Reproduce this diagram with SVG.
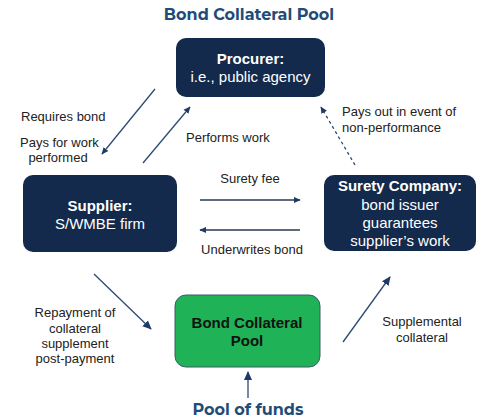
<svg xmlns="http://www.w3.org/2000/svg" width="478" height="420" viewBox="0 0 478 420">
  <defs>
    <marker id="arrow" viewBox="0 0 10 10" refX="9" refY="5" markerWidth="7" markerHeight="7" markerUnits="userSpaceOnUse" orient="auto">
      <path d="M0,0.5 L10,5 L0,9.5 z" fill="#1f3a66"/>
    </marker>
    <marker id="arrowBig" viewBox="0 0 10 10" refX="9" refY="5" markerWidth="9" markerHeight="9" markerUnits="userSpaceOnUse" orient="auto">
      <path d="M0,0.5 L10,5 L0,9.5 z" fill="#1f3a66"/>
    </marker>
  </defs>
  <style>
    .node { fill: #132a4c; }
    .pool { fill: #1fb256; stroke: #3b5b6a; stroke-width: 1; }
    .nt { font-family: "Liberation Sans", Arial, sans-serif; font-size: 15px; fill: #ffffff; text-anchor: middle; }
    .b { font-weight: bold; }
    .pt { font-family: "Liberation Sans", Arial, sans-serif; font-size: 15px; font-weight: bold; fill: #111111; text-anchor: middle; }
    .lbl { font-family: "Liberation Sans", Arial, sans-serif; font-size: 13px; fill: #222222; }
    .mid { text-anchor: middle; }
    .head { font-family: "Montserrat", "Open Sans", "Liberation Sans", sans-serif; font-weight: bold; font-size: 16px; fill: #1e4b78; text-anchor: middle; }
    .ln { stroke: #2c4a72; stroke-width: 1.3; fill: none; }
    .flat { stroke: #5b6b80; stroke-width: 1.8; fill: none; }
    .dash { stroke: #2c4a72; stroke-width: 1.3; stroke-dasharray: 3 3; fill: none; }
  </style>

  <rect width="478" height="420" fill="#ffffff"/>

  <text class="head" x="249" y="20">Bond Collateral Pool</text>

  <g id="procurer">
    <rect class="node" x="176" y="38" width="149" height="59" rx="10"/>
    <text class="nt b" x="250.5" y="64">Procurer:</text>
    <text class="nt" x="250.5" y="82">i.e., public agency</text>
  </g>

  <g id="supplier">
    <rect class="node" x="23" y="175" width="154" height="77" rx="10"/>
    <text class="nt b" x="100" y="211">Supplier:</text>
    <text class="nt" x="100" y="229">S/WMBE firm</text>
  </g>

  <g id="surety">
    <rect class="node" x="324" y="175" width="152" height="76" rx="10"/>
    <text class="nt b" x="400" y="191">Surety Company:</text>
    <text class="nt" x="400" y="210">bond issuer</text>
    <text class="nt" x="400" y="228">guarantees</text>
    <text class="nt" x="400" y="246">supplier’s work</text>
  </g>

  <g id="bond-pool">
    <rect class="pool" x="175" y="295" width="145" height="72" rx="11"/>
    <text class="pt" x="247" y="328">Bond Collateral</text>
    <text class="pt" x="247" y="346">Pool</text>
  </g>

  <g id="pool-of-funds">
    <text class="head" x="248" y="415">Pool of funds</text>
  </g>

  <g id="connectors">
    <line class="ln" x1="155" y1="89" x2="102" y2="154" marker-end="url(#arrow)"/>
    <line class="ln" x1="143" y1="163" x2="190" y2="107" marker-end="url(#arrow)"/>
    <line class="dash" x1="355" y1="165" x2="321" y2="107" marker-end="url(#arrow)"/>
    <line class="flat" x1="200" y1="200" x2="300" y2="200" marker-end="url(#arrow)"/>
    <line class="flat" x1="300" y1="230" x2="200" y2="230" marker-end="url(#arrow)"/>
    <line class="ln" x1="94" y1="274" x2="151" y2="329" marker-end="url(#arrowBig)"/>
    <line class="ln" x1="343" y1="342" x2="390" y2="277" marker-end="url(#arrowBig)"/>
    <line class="ln" x1="248" y1="398" x2="248" y2="372" marker-end="url(#arrowBig)"/>
  </g>

  <g id="labels">
    <text class="lbl" x="21" y="121">Requires bond</text>
    <text class="lbl" x="20" y="147">Pays for work</text>
    <text class="lbl mid" x="58" y="162">performed</text>
    <text class="lbl" x="186" y="142">Performs work</text>
    <text class="lbl" x="342" y="116">Pays out in event of</text>
    <text class="lbl" x="342" y="132">non-performance</text>
    <text class="lbl mid" x="250" y="183">Surety fee</text>
    <text class="lbl mid" x="252" y="254">Underwrites bond</text>
    <text class="lbl mid" x="75" y="317">Repayment of</text>
    <text class="lbl mid" x="75" y="333">collateral</text>
    <text class="lbl mid" x="75" y="348">supplement</text>
    <text class="lbl mid" x="75" y="363">post-payment</text>
    <text class="lbl mid" x="422" y="326">Supplemental</text>
    <text class="lbl mid" x="422" y="342">collateral</text>
  </g>
</svg>
